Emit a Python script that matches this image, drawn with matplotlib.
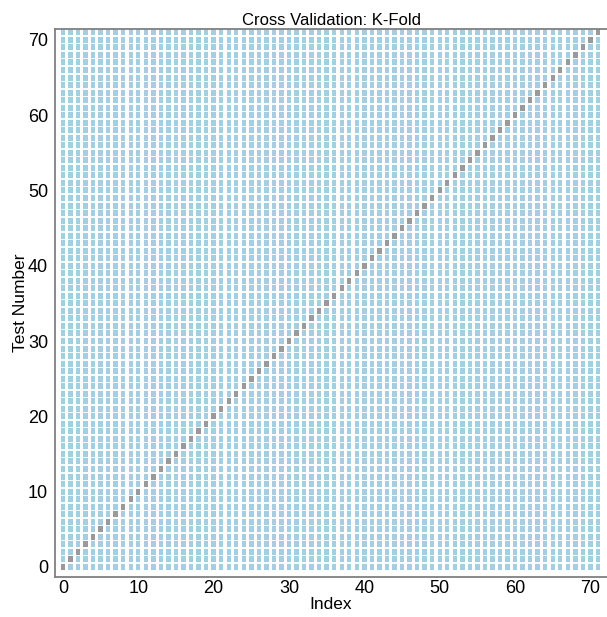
import numpy as np
import matplotlib.pyplot as plt

plt.rcParams['font.family'] = ['Liberation Sans', 'DejaVu Sans']

# leave-one-out style split: 72 samples, one test sample per split
n_samples = 72
sample_index = np.arange(n_samples)
test_per_split = np.arange(n_samples)   # test sample used in split i

train_color = '#a6cee3'
test_color = '#9a9a9a'

fig = plt.figure(figsize=(6.07, 6.17), dpi=100)
ax = fig.add_axes([55/607, 40/617, 552/607, 548/617])

for split, test_idx in enumerate(test_per_split):
    colors = [test_color if i == test_idx else train_color for i in sample_index]
    ax.scatter(sample_index, [split]*n_samples, c=colors, marker='_',
               s=10, linewidths=4.4)

ax.set_xlim(-1.05, 72.2)
ax.set_ylim(-1.35, 71.45)
ax.set_xticks(np.arange(0, 71, 10))
ax.set_yticks(np.arange(0, 71, 10))
ax.tick_params(labelsize=13, length=0)
ax.tick_params(axis='x', pad=2)
ax.tick_params(axis='y', pad=5)
ax.set_xlabel('Index', fontsize=12.5, labelpad=0)
ax.set_ylabel('Test Number', fontsize=12.5, labelpad=0)
ax.set_title('Cross Validation: K-Fold', fontsize=12, pad=3)

for side in ['left', 'bottom', 'top']:
    ax.spines[side].set_color('#808080')
    ax.spines[side].set_linewidth(1.3)
ax.spines['right'].set_visible(False)

fig.savefig('out.png', dpi=100)
